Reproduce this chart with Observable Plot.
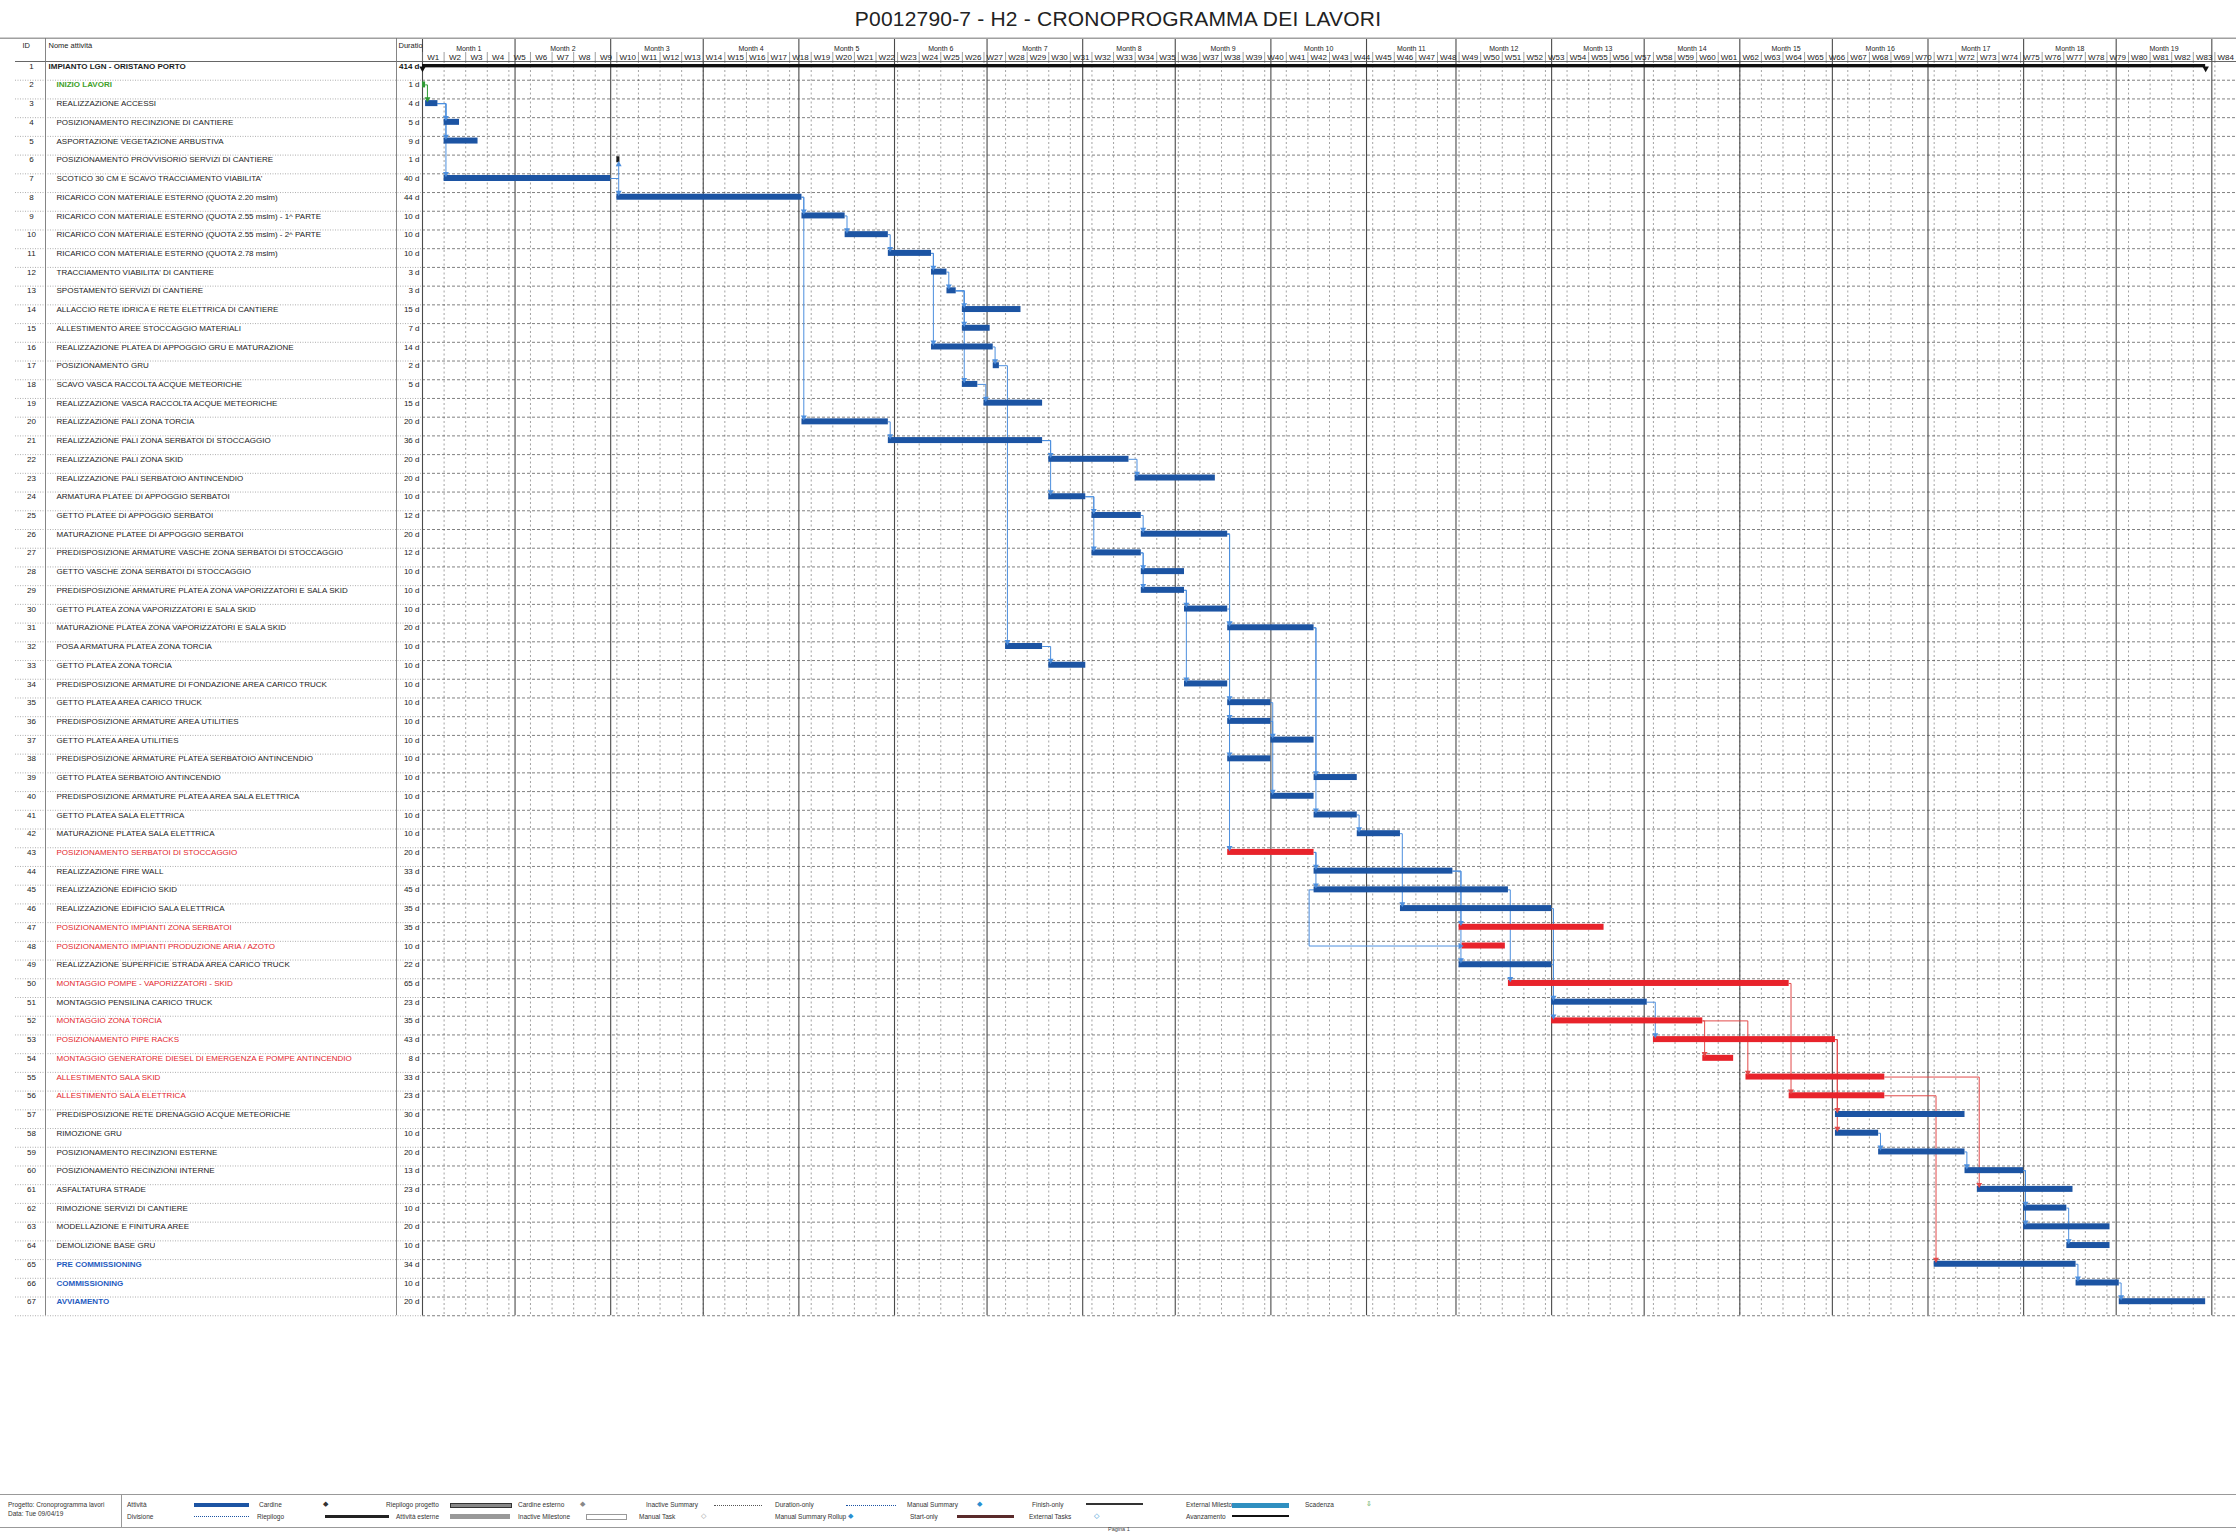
<!DOCTYPE html>
<html><head><meta charset="utf-8">
<script src="https://cdn.jsdelivr.net/npm/d3@7"></script>
<script src="https://cdn.jsdelivr.net/npm/@observablehq/plot@0.6"></script>
<style>
body{margin:0;background:#fff;font-family:"Liberation Sans",Arial,sans-serif;}
#page{position:relative;width:2236px;height:1532px;overflow:hidden;background:#fff;}
#title{position:absolute;left:0;top:7px;width:2236px;text-align:center;font-size:21px;color:#222;letter-spacing:0.2px;}
#chart{position:absolute;left:0;top:37px;}
#legend{position:absolute;left:0;top:1494px;width:2236px;height:32px;border-top:1.5px solid #999;border-bottom:1.5px solid #999;font-size:6.5px;color:#333;}
#legend span,#legend div{position:absolute;}
#pagina{position:absolute;left:1108px;top:1526px;font-size:5.5px;color:#444;}
#lborder{position:absolute;left:15px;top:37px;width:0;height:1457px;border-left:1px solid #777;}
</style></head><body>
<div id="page">
<div id="title">P0012790-7 - H2 - CRONOPROGRAMMA DEI LAVORI</div>
<div id="lborder"></div>
<div id="chart"></div>
<div id="legend">
 <div style="left:121px;top:0;height:32px;border-left:1px solid #999"></div>
 <span style="left:8px;top:6px">Progetto: Cronoprogramma lavori</span>
 <span style="left:8px;top:15px">Data: Tue 09/04/19</span>
 <span style="left:127px;top:6px">Attività</span>
 <div style="left:194px;top:8px;width:55px;height:4px;background:#1c54a3"></div>
 <span style="left:259px;top:6px">Cardine</span>
 <span style="left:323px;top:5px;font-size:7px">◆</span>
 <span style="left:386px;top:6px">Riepilogo progetto</span>
 <div style="left:450px;top:8px;width:60px;height:3px;background:#888;border:1px solid #333"></div>
 <span style="left:518px;top:6px">Cardine esterno</span>
 <span style="left:580px;top:5px;font-size:7px;color:#888">◆</span>
 <span style="left:646px;top:6px">Inactive Summary</span>
 <div style="left:714px;top:10px;width:48px;border-top:1.5px dotted #555"></div>
 <span style="left:775px;top:6px">Duration-only</span>
 <div style="left:846px;top:10px;width:50px;border-top:1.5px dotted #1c54a3"></div>
 <span style="left:907px;top:6px">Manual Summary</span>
 <span style="left:977px;top:5px;font-size:7px;color:#2a8fd0">◆</span>
 <span style="left:1032px;top:6px">Finish-only</span>
 <div style="left:1086px;top:8px;width:57px;height:2px;background:#333"></div>
 <span style="left:1186px;top:6px">External Milestone</span>
 <div style="left:1232px;top:8px;width:57px;height:5px;background:#2f8fc0"></div>
 <span style="left:1305px;top:6px">Scadenza</span>
 <span style="left:1366px;top:5px;font-size:7px;color:#3a9a2a">⇩</span>
 <span style="left:127px;top:18px">Divisione</span>
 <div style="left:194px;top:21px;width:55px;border-top:1.5px dotted #1c54a3"></div>
 <span style="left:257px;top:18px">Riepilogo</span>
 <div style="left:325px;top:20px;width:64px;height:3px;background:#222"></div>
 <span style="left:396px;top:18px">Attività esterne</span>
 <div style="left:450px;top:19px;width:60px;height:5px;background:#999"></div>
 <span style="left:518px;top:18px">Inactive Milestone</span>
 <div style="left:586px;top:19px;width:39px;height:4px;border:1px solid #999"></div>
 <span style="left:639px;top:18px">Manual Task</span>
 <span style="left:701px;top:17px;font-size:7px;color:#999">◇</span>
 <span style="left:775px;top:18px">Manual Summary Rollup</span>
 <span style="left:848px;top:17px;font-size:7px;color:#2a8fd0">◆</span>
 <span style="left:910px;top:18px">Start-only</span>
 <div style="left:957px;top:20px;width:57px;height:3px;background:#5a2a2a"></div>
 <span style="left:1029px;top:18px">External Tasks</span>
 <span style="left:1094px;top:17px;font-size:7px;color:#2a8fd0">◇</span>
 <span style="left:1186px;top:18px">Avanzamento</span>
 <div style="left:1232px;top:20px;width:57px;height:2px;background:#111"></div>
</div>
<div id="pagina">Pagina 1</div>
</div>
<script>
// ---------------- DATA ----------------
const taskIds = [1,2,3,4,5,6,7,8,9,10,11,12,13,14,15,16,17,18,19,20,21,22,23,24,25,26,27,28,29,30,31,32,33,34,35,36,37,38,39,40,41,42,43,44,45,46,47,48,49,50,51,52,53,54,55,56,57,58,59,60,61,62,63,64,65,66,67];
const taskNames = [
 "IMPIANTO LGN - ORISTANO PORTO",
 "INIZIO LAVORI",
 "REALIZZAZIONE ACCESSI",
 "POSIZIONAMENTO RECINZIONE DI CANTIERE",
 "ASPORTAZIONE VEGETAZIONE ARBUSTIVA",
 "POSIZIONAMENTO PROVVISORIO SERVIZI DI CANTIERE",
 "SCOTICO 30 CM E SCAVO TRACCIAMENTO VIABILITA'",
 "RICARICO CON MATERIALE ESTERNO (QUOTA 2.20 mslm)",
 "RICARICO CON MATERIALE ESTERNO (QUOTA 2.55 mslm) - 1^ PARTE",
 "RICARICO CON MATERIALE ESTERNO (QUOTA 2.55 mslm) - 2^ PARTE",
 "RICARICO CON MATERIALE ESTERNO (QUOTA 2.78 mslm)",
 "TRACCIAMENTO VIABILITA' DI CANTIERE",
 "SPOSTAMENTO SERVIZI DI CANTIERE",
 "ALLACCIO RETE IDRICA E RETE ELETTRICA DI CANTIERE",
 "ALLESTIMENTO AREE STOCCAGGIO MATERIALI",
 "REALIZZAZIONE PLATEA DI APPOGGIO GRU E MATURAZIONE",
 "POSIZIONAMENTO GRU",
 "SCAVO VASCA RACCOLTA ACQUE METEORICHE",
 "REALIZZAZIONE VASCA RACCOLTA ACQUE METEORICHE",
 "REALIZZAZIONE PALI ZONA TORCIA",
 "REALIZZAZIONE PALI ZONA SERBATOI DI STOCCAGGIO",
 "REALIZZAZIONE PALI ZONA SKID",
 "REALIZZAZIONE PALI SERBATOIO ANTINCENDIO",
 "ARMATURA PLATEE DI APPOGGIO SERBATOI",
 "GETTO PLATEE DI APPOGGIO SERBATOI",
 "MATURAZIONE PLATEE DI APPOGGIO SERBATOI",
 "PREDISPOSIZIONE ARMATURE VASCHE ZONA SERBATOI DI STOCCAGGIO",
 "GETTO VASCHE ZONA SERBATOI DI STOCCAGGIO",
 "PREDISPOSIZIONE ARMATURE PLATEA ZONA VAPORIZZATORI E SALA SKID",
 "GETTO PLATEA ZONA VAPORIZZATORI E SALA SKID",
 "MATURAZIONE PLATEA ZONA VAPORIZZATORI E SALA SKID",
 "POSA ARMATURA PLATEA ZONA TORCIA",
 "GETTO PLATEA ZONA TORCIA",
 "PREDISPOSIZIONE ARMATURE DI FONDAZIONE AREA CARICO TRUCK",
 "GETTO PLATEA AREA CARICO TRUCK",
 "PREDISPOSIZIONE ARMATURE AREA UTILITIES",
 "GETTO PLATEA AREA UTILITIES",
 "PREDISPOSIZIONE ARMATURE PLATEA SERBATOIO ANTINCENDIO",
 "GETTO PLATEA SERBATOIO ANTINCENDIO",
 "PREDISPOSIZIONE ARMATURE PLATEA AREA SALA ELETTRICA",
 "GETTO PLATEA SALA ELETTRICA",
 "MATURAZIONE PLATEA SALA ELETTRICA",
 "POSIZIONAMENTO SERBATOI DI STOCCAGGIO",
 "REALIZZAZIONE FIRE WALL",
 "REALIZZAZIONE EDIFICIO SKID",
 "REALIZZAZIONE EDIFICIO SALA ELETTRICA",
 "POSIZIONAMENTO IMPIANTI ZONA SERBATOI",
 "POSIZIONAMENTO IMPIANTI PRODUZIONE ARIA / AZOTO",
 "REALIZZAZIONE SUPERFICIE STRADA AREA CARICO TRUCK",
 "MONTAGGIO POMPE - VAPORIZZATORI - SKID",
 "MONTAGGIO PENSILINA CARICO TRUCK",
 "MONTAGGIO ZONA TORCIA",
 "POSIZIONAMENTO PIPE RACKS",
 "MONTAGGIO GENERATORE DIESEL DI EMERGENZA E POMPE ANTINCENDIO",
 "ALLESTIMENTO SALA SKID",
 "ALLESTIMENTO SALA ELETTRICA",
 "PREDISPOSIZIONE RETE DRENAGGIO ACQUE METEORICHE",
 "RIMOZIONE GRU",
 "POSIZIONAMENTO RECINZIONI ESTERNE",
 "POSIZIONAMENTO RECINZIONI INTERNE",
 "ASFALTATURA STRADE",
 "RIMOZIONE SERVIZI DI CANTIERE",
 "MODELLAZIONE E FINITURA AREE",
 "DEMOLIZIONE BASE GRU",
 "PRE COMMISSIONING",
 "COMMISSIONING",
 "AVVIAMENTO"
];
// durations in working days (as printed in the "Durata" column)
const durationDays = [414,1,4,5,9,1,40,44,10,10,10,3,3,15,7,14,2,5,15,20,36,20,20,10,12,20,12,10,10,10,20,10,10,10,10,10,10,10,10,10,10,10,20,33,45,35,35,10,22,65,23,35,43,8,33,23,30,10,20,13,23,10,20,10,34,10,20];
// start of each bar, in working days from project start
const startWorkDay = [0,0,1,5,5,45,5,45,89,99,109,119,122,125,125,119,133,125,130,89,109,145,165,145,155,167,155,167,167,177,187,135,145,177,187,187,197,187,207,197,207,217,187,207,207,227,240,241,240,252,262,262,285,297,307,317,328,328,338,358,360,371,371,381,350,384,394];
const redTasks = [43,47,48,50,52,53,54,55,56];
const greenTasks = [2];
const blackTasks = [6];
const blueLabelTasks = [65,66,67];
const boldTasks = [1,2,65,66,67];
// finish-to-start links [predecessor, successor]
const links = [[2,3],[3,4],[3,5],[3,7],[7,6],[7,8],[8,9],[8,20],[9,10],[10,11],[11,12],[11,16],[12,13],[13,14],[13,15],[13,18],[16,17],[18,19],[17,32],[20,21],[21,22],[21,24],[22,23],[24,25],[24,27],[25,26],[27,28],[27,29],[29,30],[29,34],[32,33],[26,31],[30,31],[26,35],[26,36],[26,38],[26,43],[35,37],[36,40],[31,39],[31,41],[41,42],[43,44],[43,45],[42,46],[44,47],[44,49],[45,50],[46,51],[49,52],[51,53],[52,54],[52,55],[50,56],[53,57],[53,58],[58,59],[59,60],[55,61],[60,62],[60,63],[62,64],[56,65],[65,66],[66,67]];
// start-to-start links
const ssLinks = [[45,48]];
// red predecessors whose outgoing links are drawn blue
const blueLinkPreds = [43];
const projectStartISO = "2019-04-01";
const weekCount = 84;

// ---------------- BUILD ----------------
const DAY = 864e5;
const base = new Date(projectStartISO + "T00:00:00Z");
const endDate = new Date(+base + weekCount * 7 * DAY);
const calStart = wd => Math.floor(wd / 5) * 7 + (wd % 5);
const calEnd = wd => calStart(wd - 1) + 1;
const dday = d => new Date(+base + d * DAY);

const COL = {blue: "#1c54a3", red: "#e8232b", green: "#2f9a35", black: "#1a1a1a"};
const tasks = taskIds.map((id, i) => {
  const kind = redTasks.includes(id) ? "red" : greenTasks.includes(id) ? "green" : blackTasks.includes(id) ? "black" : "blue";
  return {
    id, row: i + 1, name: taskNames[i], dur: durationDays[i],
    start: dday(calStart(startWorkDay[i])),
    end: dday(calEnd(startWorkDay[i] + durationDays[i])),
    kind, fill: COL[kind],
    text: redTasks.includes(id) ? "#e3242b" : greenTasks.includes(id) ? "#3f9f2a" : blueLabelTasks.includes(id) ? "#1f5cbf" : "#1b1b1b",
    bold: boldTasks.includes(id)
  };
});
const byId = new Map(tasks.map(t => [t.id, t]));
const summary = tasks.filter(t => t.id === 1);
const barTasks = tasks.filter(t => t.id !== 1);

const linkColor = P => (P.kind === "red" && !blueLinkPreds.includes(P.id)) ? "#e24a4a" : P.kind === "green" ? "#2f9a35" : "#4d8fde";
const linkPts = [], arrows = [];
links.forEach(([p, s], k) => {
  const P = byId.get(p), S = byId.get(s);
  const c = linkColor(P);
  const cx = new Date(Math.max(+P.end, +S.start) + 0.6 * DAY);
  const down = S.row > P.row;
  const yEnd = down ? S.row - 0.26 : S.row + 0.26;
  linkPts.push({k, x: P.end, y: P.row, c}, {k, x: cx, y: P.row, c}, {k, x: cx, y: yEnd, c});
  arrows.push({x: cx, y: down ? S.row - 0.25 : S.row + 0.25, rot: down ? 180 : 0, c});
});
ssLinks.forEach(([p, s], j) => {
  const P = byId.get(p), S = byId.get(s);
  const k = "ss" + j, c = linkColor(P);
  const lx = new Date(+P.start - 1.6 * DAY);
  linkPts.push({k, x: P.start, y: P.row, c}, {k, x: lx, y: P.row, c}, {k, x: lx, y: S.row, c}, {k, x: new Date(+S.start - 0.5 * DAY), y: S.row, c});
  arrows.push({x: new Date(+S.start - 0.6 * DAY), y: S.row, rot: 90, c});
});

const weekStarts = d3.utcMonday.range(base, endDate);
const weeks = weekStarts.map((w, i) => ({mid: new Date(+w + 3.5 * DAY), label: "W" + (i + 1)}));
const monthStarts = d3.utcMonth.range(base, endDate);
const months = [];
for (let i = 0; i + 1 < monthStarts.length; i++) months.push({mid: new Date((+monthStarts[i] + +monthStarts[i + 1]) / 2), label: "Month " + (i + 1)});

const H = 1457, MT = 24, ROW = 18.72, NR = 67;
const frameBottom = MT + NR * ROW;
const py = px => 0.75 + (px - MT) / ROW;
const sepYs = taskIds.map(id => id + 0.75);
const font = "Liberation Sans, Arial, sans-serif";

const chart = Plot.plot({
  width: 2236, height: H,
  marginLeft: 422, marginRight: 0, marginTop: MT, marginBottom: H - frameBottom,
  x: {type: "utc", domain: [base, endDate], axis: null},
  y: {type: "linear", domain: [0.75, NR + 0.75], range: [MT, frameBottom], axis: null},
  style: {fontFamily: font, background: "white", overflow: "visible"},
  marks: [
    Plot.ruleX(weekStarts, {y1: 0.75, y2: NR + 0.75, stroke: "#8c8c8c", strokeWidth: 0.8, strokeDasharray: "2,2.5"}),
    Plot.ruleY(sepYs, {stroke: "#444", strokeWidth: 0.8, strokeDasharray: "3,2", strokeOpacity: 0.85}),
    Plot.ruleY(sepYs, {insetLeft: -407, insetRight: 2236 - 422, stroke: "#9a9a9a", strokeWidth: 0.8, strokeDasharray: "1,1.5"}),
    Plot.ruleX(monthStarts, {y1: py(1), y2: NR + 0.75, stroke: "#4a4a4a", strokeWidth: 1.1}),
    Plot.ruleX(weekStarts, {y1: py(15), y2: 0.75, stroke: "#777", strokeWidth: 0.7}),
    Plot.ruleY([py(0.8)], {insetLeft: -422, stroke: "#a0a0a0", strokeWidth: 1.6}),
    Plot.ruleY([0.75], {insetLeft: -407, stroke: "#555", strokeWidth: 0.9}),
    Plot.ruleX([base], {dx: -377, y1: py(1), y2: NR + 0.75, stroke: "#777", strokeWidth: 0.9}),
    Plot.ruleX([base], {dx: -26, y1: py(1), y2: NR + 0.75, stroke: "#777", strokeWidth: 0.9}),
    Plot.line(linkPts, {x: "x", y: "y", z: "k", stroke: "c", strokeWidth: 1, curve: "linear"}),
    Plot.rect(barTasks, {x1: "start", x2: "end", y1: d => d.row - 0.16, y2: d => d.row + 0.16, fill: "fill"}),
    Plot.rect(summary, {x1: "start", x2: "end", y1: d => d.row - 0.09, y2: d => d.row + 0.09, fill: "#111"}),
    Plot.dot(summary, {x: "start", y: d => d.row + 0.12, symbol: "triangle", rotate: 180, r: 2.4, fill: "#111"}),
    Plot.dot(summary, {x: "end", y: d => d.row + 0.12, symbol: "triangle", rotate: 180, r: 2.4, fill: "#111"}),
    Plot.dot(arrows, {x: "x", y: "y", symbol: "triangle", rotate: "rot", r: 2.2, fill: "c", stroke: null}),
    Plot.text(["ID"], {frameAnchor: "left", dx: -400, y: py(8), textAnchor: "start", fontSize: 7.5, fill: "#222"}),
    Plot.text(["Nome attività"], {frameAnchor: "left", dx: -374, y: py(8), textAnchor: "start", fontSize: 7.5, fill: "#222"}),
    Plot.text(["Duratio"], {frameAnchor: "left", dx: -24, y: py(8), textAnchor: "start", fontSize: 7.5, fill: "#222"}),
    Plot.text(months, {x: "mid", y: py(11), text: "label", fontSize: 7, fill: "#222"}),
    Plot.text(weeks, {x: "mid", y: py(19.5), text: "label", fontSize: 8, fill: "#1a1a1a"}),
    Plot.text(tasks, {y: "row", text: d => String(d.id), frameAnchor: "left", dx: -391, textAnchor: "middle", fontSize: 8, fill: "#222"}),
    Plot.text(tasks.filter(t => t.id === 1), {y: "row", text: "name", frameAnchor: "left", dx: -374, textAnchor: "start", fontSize: 8, fontWeight: "bold", fill: "text"}),
    Plot.text(tasks.filter(t => t.id !== 1 && t.bold), {y: "row", text: "name", frameAnchor: "left", dx: -366, textAnchor: "start", fontSize: 8, fontWeight: "bold", fill: "text"}),
    Plot.text(tasks.filter(t => !t.bold), {y: "row", text: "name", frameAnchor: "left", dx: -366, textAnchor: "start", fontSize: 8, fill: "text"}),
    Plot.text(tasks.filter(t => t.id === 1), {y: "row", text: d => d.dur + " d", frameAnchor: "left", dx: -3, textAnchor: "end", fontSize: 8, fontWeight: "bold", fill: "#111"}),
    Plot.text(tasks.filter(t => t.id !== 1), {y: "row", text: d => d.dur + " d", frameAnchor: "left", dx: -3, textAnchor: "end", fontSize: 8, fill: "#222"})
  ]
});
document.getElementById("chart").appendChild(chart);
</script>
</body></html>
